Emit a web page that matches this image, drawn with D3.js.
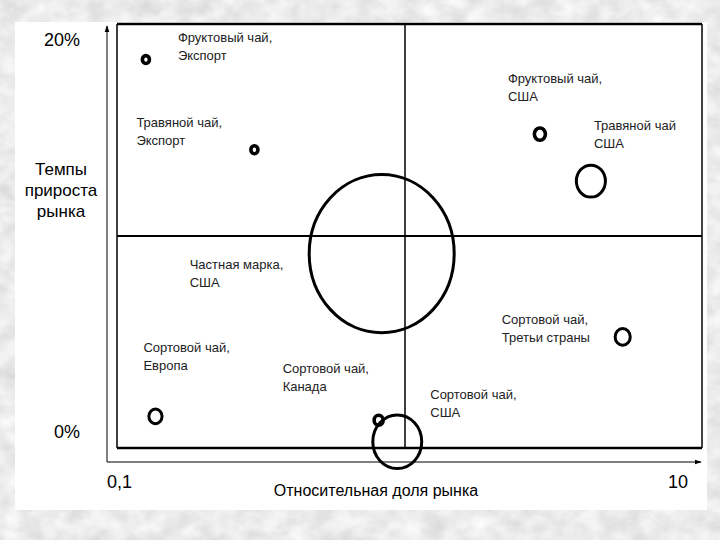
<!DOCTYPE html>
<html>
<head>
<meta charset="utf-8">
<script src="https://cdn.jsdelivr.net/npm/d3@7"></script>
<style>
  html, body { margin: 0; padding: 0; background: #d6d6d6; }
  svg { display: block; }
  text { font-family: "Liberation Sans", Arial, sans-serif; }
</style>
</head>
<body>
<div id="chart"></div>
<script>
// данные: продукты / рынки
const products = ["Фруктовый чай,", "Травяной чай,", "Фруктовый чай,", "Травяной чай", "Частная марка,", "Сортовой чай,", "Сортовой чай,", "Сортовой чай,", "Сортовой чай,"];
const markets = ["Экспорт", "Экспорт", "США", "США", "США", "Третьи страны", "Европа", "Канада", "США"];
const share = [0.126, 0.30, 2.94, 4.42, 0.83, 5.7, 0.136, 0.81, 0.94];   // относительная доля рынка
const growth = [19.0, 14.4, 15.2, 12.8, 9.1, 4.85, 0.8, 0.6, -0.5];     // темпы прироста, %
const sales = [0.46, 0.46, 0.9, 4.7, 100, 1.5, 1.2, 0.66, 12.3];         // объём продаж (размер круга)
const xTicks = ["0,1", "10"];
const yTicks = ["20%", "0%"];

// смещения подписей относительно кругов
const labelDx = [32, -118, -32, 3, -192, -121, -12, -96, 33];
const labelDy = [-22, -27, -56, -56, 11, -17, -69, -52, -47];

const W = 720, H = 540;
const svg = d3.select("#chart").append("svg").attr("width", W).attr("height", H);

// фон "под мрамор"
const defs = svg.append("defs");
const marble = defs.append("filter").attr("id", "marble").attr("x", 0).attr("y", 0).attr("width", 1).attr("height", 1);
marble.append("feTurbulence").attr("type", "fractalNoise").attr("baseFrequency", "0.045 0.06")
  .attr("numOctaves", 3).attr("seed", 4);
marble.append("feColorMatrix").attr("type", "matrix")
  .attr("values", "0 0 0 0.35 0.66  0 0 0 0.35 0.66  0 0 0 0.35 0.66  0 0 0 0 1");
svg.append("rect").attr("width", W).attr("height", H).attr("fill", "#d6d6d6").attr("filter", "url(#marble)");
svg.append("rect").attr("x", 15).attr("y", 22).attr("width", 692).attr("height", 488).attr("fill", "#fff");

const x = d3.scaleLog().domain([0.1, 10]).range([117, 693]);
const y = d3.scaleLinear().domain([0, 20]).range([432, 40]);
const r = d3.scaleSqrt().domain([0, 100]).range([0, 74]);

const box = { left: 117, right: 702, top: 24, bottom: 448 };

// рамка матрицы
svg.append("line").attr("x1", box.left).attr("x2", box.right).attr("y1", box.top).attr("y2", box.top)
  .attr("stroke", "#000").attr("stroke-width", 2.5);
svg.append("line").attr("x1", box.left).attr("x2", box.right).attr("y1", box.bottom).attr("y2", box.bottom)
  .attr("stroke", "#000").attr("stroke-width", 2.5);
svg.append("line").attr("x1", box.left).attr("x2", box.left).attr("y1", box.top).attr("y2", box.bottom)
  .attr("stroke", "#000").attr("stroke-width", 1.5);
svg.append("line").attr("x1", box.right).attr("x2", box.right).attr("y1", box.top).attr("y2", box.bottom)
  .attr("stroke", "#000").attr("stroke-width", 1.5);

// разделители квадрантов
svg.append("line").attr("x1", x(1)).attr("x2", x(1)).attr("y1", box.top).attr("y2", box.bottom)
  .attr("stroke", "#000").attr("stroke-width", 1.5);
svg.append("line").attr("x1", box.left).attr("x2", box.right).attr("y1", y(10)).attr("y2", y(10))
  .attr("stroke", "#000").attr("stroke-width", 2);

// оси со стрелками
defs.append("marker").attr("id", "arrow").attr("viewBox", "0 0 10 10")
  .attr("refX", 9).attr("refY", 5).attr("markerWidth", 7).attr("markerHeight", 7)
  .attr("orient", "auto")
  .append("path").attr("d", "M0,1.5 L10,5 L0,8.5 Z").attr("fill", "#000");

svg.append("line").attr("x1", 107).attr("x2", 107).attr("y1", 462).attr("y2", 26)
  .attr("stroke", "#000").attr("stroke-width", 1).attr("marker-end", "url(#arrow)");
svg.append("line").attr("x1", 107).attr("x2", 701).attr("y1", 462).attr("y2", 462)
  .attr("stroke", "#000").attr("stroke-width", 1).attr("marker-end", "url(#arrow)");

// подписи осей
svg.append("text").attr("x", 80).attr("y", y(20)).attr("dy", "0.35em").attr("text-anchor", "end")
  .attr("font-size", 18).text(yTicks[0]);
svg.append("text").attr("x", 80).attr("y", y(0)).attr("dy", "0.35em").attr("text-anchor", "end")
  .attr("font-size", 18).text(yTicks[1]);
svg.append("text").attr("x", x(0.1) - 10).attr("y", 482).attr("dy", "0.35em")
  .attr("font-size", 18).text(xTicks[0]);
svg.append("text").attr("x", x(10) - 25).attr("y", 482).attr("dy", "0.35em")
  .attr("font-size", 18).text(xTicks[1]);

const yTitle = svg.append("text").attr("text-anchor", "middle").attr("font-size", 17);
["Темпы", "прироста", "рынка"].forEach(function (t, i) {
  yTitle.append("tspan").attr("x", 61).attr("y", 169 + i * 21).attr("dy", "0.35em").text(t);
});
svg.append("text").attr("x", 376).attr("y", 490).attr("dy", "0.35em").attr("text-anchor", "middle")
  .attr("font-size", 16).text("Относительная доля рынка");

// круги
const idx = d3.range(products.length);
svg.append("g").selectAll("ellipse").data(idx).enter().append("ellipse")
  .attr("cx", function (i) { return x(share[i]); })
  .attr("cy", function (i) { return y(growth[i]); })
  .attr("rx", function (i) { return Math.max(r(sales[i]) - 1.5, 3); })
  .attr("ry", function (i) { return Math.max(r(sales[i]) * 1.09 - 1.5, 3.3); })
  .attr("fill", "none").attr("stroke", "#000")
  .attr("stroke-width", function (i) { return r(sales[i]) < 8 ? 3.6 : 3; });

// подписи
const labels = svg.append("g").selectAll("text").data(idx).enter().append("text")
  .attr("font-size", 13).attr("fill", "#222");
labels.append("tspan")
  .attr("x", function (i) { return x(share[i]) + labelDx[i]; })
  .attr("y", function (i) { return y(growth[i]) + labelDy[i]; })
  .attr("dy", "0.35em").text(function (i) { return products[i]; });
labels.append("tspan")
  .attr("x", function (i) { return x(share[i]) + labelDx[i]; })
  .attr("y", function (i) { return y(growth[i]) + labelDy[i] + 18; })
  .attr("dy", "0.35em").text(function (i) { return markets[i]; });
</script>
</body>
</html>
